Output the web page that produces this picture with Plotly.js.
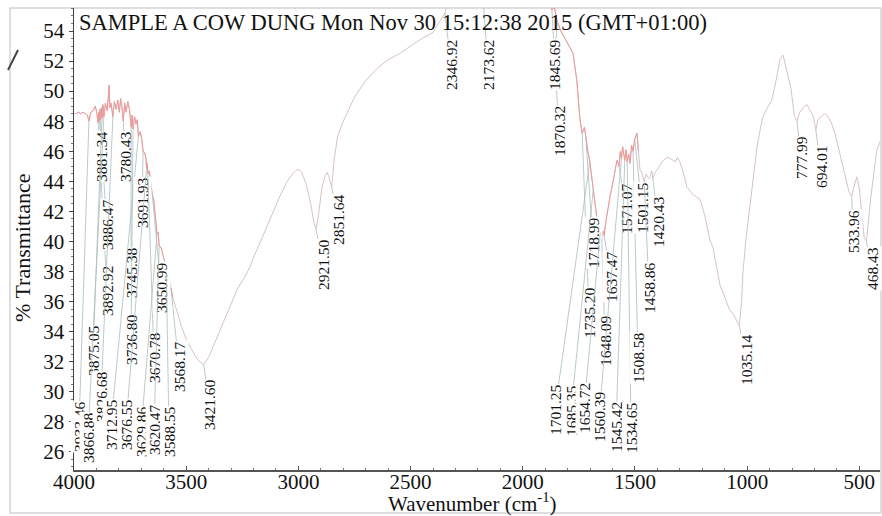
<!DOCTYPE html>
<html>
<head>
<meta charset="utf-8">
<script src="https://cdn.plot.ly/plotly-3.0.1.min.js"></script>
<style>html,body{margin:0;padding:0;background:#fff;}#chart{width:882px;height:516px;}</style>
</head>
<body>
<div id="chart"></div>
<script>
// ---------- DATA ----------
const wavenumber = [4000,3990,3980,3970,3960,3950,3940,3933.46,3925,3915,3905,3898,3892.92,3889,3886.47,3884,3881.34,3878,3875.05,3871,3866.88,3860,3852,3847,3844,3840,3835,3826.68,3820,3812,3805,3798,3792,3786,3780.43,3774,3768,3760,3752,3745.38,3741,3736.80,3730,3724,3718,3712.95,3705,3698,3691.93,3685,3680,3676.55,3673,3670.78,3664,3658,3650.99,3645,3638,3629.86,3625,3620.47,3612,3603,3595,3588.55,3580,3568.17,3560,3540,3520,3500,3480,3460,3440,3421.60,3400,3380,3350,3320,3300,3270,3240,3216,3190,3171,3140,3110,3080,3050,3020,3002,2985,2965,2945,2930,2921.50,2910,2895,2880,2872,2862,2851.64,2840,2825,2800,2750,2700,2650,2600,2548,2500,2450,2400,2370,2346.92,2330,2300,2250,2200,2173.62,2150,2100,2000,1950,1900,1880,1870.32,1860,1845.69,1830,1810,1790,1776,1759,1745,1735.20,1725,1718.99,1710,1701.25,1692,1685.35,1675,1669,1660,1654.72,1648.09,1642,1637.47,1630,1620,1611,1600,1590,1580,1571.07,1565,1560.39,1555,1545.42,1540,1534.65,1528,1522,1515,1508.58,1501.15,1491,1485,1478,1470,1458.86,1450,1440,1433,1425,1420.43,1410,1395,1380,1357,1340,1320,1310,1300,1285,1268,1240,1210,1190,1166,1152,1140,1121,1100,1077,1063,1045,1035.14,1025,1019,1005,988,970,956,940,930,910,890,870,854,840,825,805,790,777.99,765,750,733,720,705,694.01,685,670,655,644,625,609,590,573,555,546,533.96,525,511,500,490,479,468.43,460,450,435,422,408,405];
const transmittance = [48.5,48.5,48.6,48.5,48.6,48.5,48.4,48.0,48.6,48.7,49.0,48.5,47.9,48.6,48.0,48.8,48.1,48.9,48.2,49.1,48.3,49.2,48.7,49.6,50.4,48.9,49.2,48.3,49.3,48.8,49.4,48.6,49.5,48.9,48.0,49.2,48.6,49.3,48.7,47.6,48.4,47.5,48.3,47.8,48.1,47.0,47.3,46.8,46.0,45.9,45.6,44.9,45.2,44.5,44.7,43.9,43.1,42.8,41.8,40.5,40.6,39.7,39.6,39.0,38.6,37.9,37.8,36.9,36.3,35.3,34.3,33.5,32.9,32.4,32.0,31.8,32.3,33.0,34.0,35.1,35.8,36.9,37.6,38.3,39.3,39.9,41.0,42.1,43.1,44.0,44.6,44.8,44.6,43.8,42.5,41.2,40.8,41.8,43.6,44.4,44.6,44.2,43.6,45.5,47.0,48.0,49.6,50.7,51.5,52.1,52.5,53.0,53.5,53.9,54.6,55.2,56.0,56.5,56.8,56.8,55.4,56.6,56.8,56.8,56.5,56.0,56.0,55.4,55.6,54.6,54.0,53.4,52.9,52.5,50.7,48.1,47.2,47.6,46.9,46.0,45.3,44.3,43.5,42.2,41.4,41.0,40.6,40.2,40.7,40.4,41.3,42.3,43.0,43.8,44.5,45.4,45.0,46.0,45.5,46.3,45.4,46.1,45.3,45.8,45.2,46.4,46.0,46.8,47.2,46.0,44.8,44.6,44.0,44.5,44.2,44.3,44.7,44.2,44.6,44.9,45.3,45.6,45.5,45.3,45.6,45.3,44.6,43.6,43.1,42.8,41.8,40.1,39.6,38.6,37.1,36.3,35.4,35.2,34.7,34.4,36.0,37.9,40.2,42.3,44.6,46.3,47.6,48.3,48.9,49.4,50.8,52.1,52.4,51.5,50.2,48.4,48.0,48.6,48.9,49.1,48.7,48.3,47.4,48.1,48.3,48.5,48.4,47.9,47.2,46.0,45.0,43.8,43.3,43.0,43.6,44.3,43.5,42.0,40.3,40.0,41.4,42.8,44.6,46.1,46.6,46.8];

// labelled peaks (cm-1)
const peakLabels = [3933.46,3892.92,3886.47,3881.34,3875.05,3866.88,3826.68,3780.43,3745.38,3736.80,3712.95,3691.93,3676.55,3670.78,3650.99,3629.86,3620.47,3588.55,3568.17,3421.60,2921.50,2851.64,2346.92,2173.62,1870.32,1845.69,1735.20,1718.99,1701.25,1685.35,1654.72,1648.09,1637.47,1571.07,1560.39,1545.42,1534.65,1508.58,1501.15,1458.86,1420.43,1035.14,777.99,694.01,533.96,468.43];

const yTickVals = [26,28,30,32,34,36,38,40,42,44,46,48,50,52,54];
const xTickVals = [4000,3500,3000,2500,2000,1500,1000,500];

const chartTitle = 'SAMPLE A COW DUNG Mon Nov 30 15:12:38 2015 (GMT+01:00)';
const xTitle = 'Wavenumber (cm<sup>-1</sup>)';
const yTitle = '% Transmittance';

// ---------- LAYOUT CONSTANTS ----------
const M = {l:74, r:2, t:8, b:46};
const W = 882, H = 516;
const PW = W - M.l - M.r, PH = H - M.t - M.b;
const XR = [4000, 408], YR = [24.8, 55.53];
// label text centres on the page (pixels), same order as peakLabels
const labelPx = [[79,427],[107,291],[107,225],[101,157],[93,351],[88,438],[101,397],[125,157],[131,273],[131,340],[111,425],[142,203],[126,425],[154,358],[161,288],[141,432],[154,430],[169,432],[179,367],[209,405],[323,265],[338,220],[451,65],[488,65],[559,131],[554,65],[589,313],[593,243],[555,410],[571,411],[584,408],[605,341],[611,277],[626,209],[599,417],[616,427],[631,428],[638,358],[642,208],[649,288],[658,222],[746,360],[801,158],[821,167],[853,232],[872,269]];
const redRanges = [[3995,3560],[1880,1480]];

const px2x = px => XR[0] + (px - M.l) / PW * (XR[1] - XR[0]);
const px2y = py => YR[1] - (py - M.t) / PH * (YR[1] - YR[0]);
const pxX = v => (v - M.l) / PW, pxY = v => (H - M.b - v) / PH;

function interpT(w){
  for (let i = 0; i < wavenumber.length - 1; i++){
    const a = wavenumber[i], b = wavenumber[i+1];
    if (w <= a && w >= b){
      const f = (a - w) / (a - b);
      return transmittance[i] + f * (transmittance[i+1] - transmittance[i]);
    }
  }
  return transmittance[transmittance.length-1];
}

const redT = wavenumber.map((w,i) => redRanges.some(r => w <= r[0] && w >= r[1]) ? transmittance[i] : null);

const traces = [
  {x: wavenumber, y: transmittance, type:'scatter', mode:'lines', line:{color:'#d9c3c3', width:1}, hoverinfo:'skip'},
  {x: wavenumber, y: redT, type:'scatter', mode:'lines', connectgaps:false, line:{color:'#ee9a9a', width:1}, hoverinfo:'skip'}
];

const serif = 'Liberation Serif, Times New Roman, serif';
const annotations = peakLabels.map((p,i) => {
  const yp = Math.min(interpT(p), YR[1]);
  return {
    x: p, y: yp, xref:'x', yref:'y',
    ax: px2x(labelPx[i][0]), ay: px2y(labelPx[i][1]), axref:'x', ayref:'y',
    text: p.toFixed(2), textangle:-90, showarrow:true, arrowhead:0, arrowwidth:0.8,
    arrowcolor:'#a9bcbc', standoff:0, startstandoff:0,
    font:{family:serif, size:15.5, color:'#111'}, bgcolor:'#ffffff', borderpad:0
  };
});
annotations.push({
  xref:'paper', yref:'paper', x:pxX(77), y:1.0, xanchor:'left', yanchor:'top', showarrow:false,
  text: chartTitle, font:{family:serif, size:22.5, color:'#111'}
});
annotations.push({
  xref:'paper', yref:'paper', x:pxX(472), y:pxY(502), xanchor:'center', yanchor:'middle', showarrow:false,
  text: xTitle, font:{family:serif, size:21, color:'#111'}
});
annotations.push({
  xref:'paper', yref:'paper', x:pxX(23), y:pxY(248), xanchor:'center', yanchor:'middle', showarrow:false,
  text: yTitle, textangle:-90, font:{family:serif, size:22, color:'#111'}
});

const layout = {
  width: W, height: H, margin: M, showlegend:false,
  paper_bgcolor:'#ffffff', plot_bgcolor:'#ffffff',
  xaxis:{
    range: XR, tickvals: xTickVals, ticks:'inside', ticklen:4, tickcolor:'#555',
    showline:true, linecolor:'#555', linewidth:2, showgrid:false, zeroline:false,
    minor:{dtick:100, ticks:'inside', ticklen:2, tickcolor:'#777'},
    ticklabelstandoff:-8,
    tickfont:{family:serif, size:21, color:'#111'}
  },
  yaxis:{
    range: YR, tickvals: yTickVals, ticks:'outside', ticklen:4, tickcolor:'#444',
    showline:true, linecolor:'#444', linewidth:1.5, showgrid:false, zeroline:false,
    minor:{dtick:0.5, ticks:'outside', ticklen:2, tickcolor:'#777'},
    tickfont:{family:serif, size:21, color:'#111'}
  },
  annotations: annotations,
  shapes:[
    {type:'rect', xref:'paper', yref:'paper', x0:pxX(10), x1:pxX(881), y0:pxY(513), y1:pxY(8), line:{color:'#d4d4d4', width:1.5}, layer:'below'},
    {type:'line', xref:'paper', yref:'paper', x0:pxX(8), y0:pxY(70), x1:pxX(18), y1:pxY(50), line:{color:'#444', width:2}}
  ]
};

Plotly.newPlot('chart', traces, layout, {displayModeBar:false, staticPlot:true});
</script>
</body>
</html>
